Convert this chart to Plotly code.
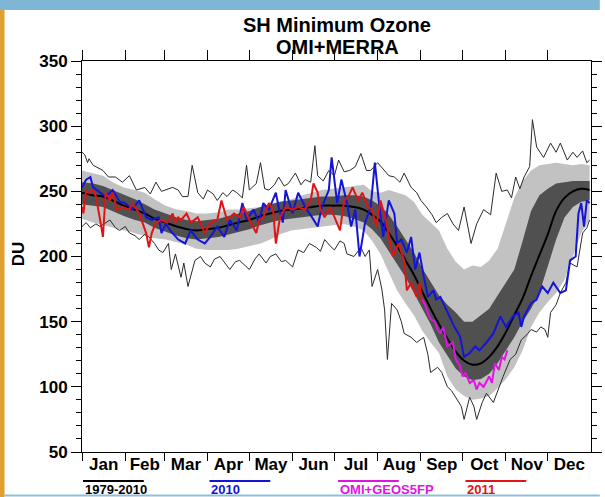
import plotly.graph_objects as go

# ---------------- data (DU) ----------------
month_names = ["Jan", "Feb", "Mar", "Apr", "May", "Jun", "Jul", "Aug", "Sep", "Oct", "Nov", "Dec"]
month_starts = [0, 31, 59, 90, 120, 151, 181, 212, 243, 273, 304, 334]
month_mids = [15.5, 45, 74.5, 105, 135.5, 166, 196.5, 227.5, 258, 288.5, 319, 349.5]
du_ticks = [50, 100, 150, 200, 250, 300, 350]

band_days = [0, 8, 15, 22, 30, 38, 45, 52, 60, 68, 75, 82, 90, 98, 105, 112, 120, 128, 135, 142,
             150, 158, 165, 172, 180, 188, 195, 202, 208, 214, 220, 226, 232, 238, 244, 250, 256, 262,
             268, 274, 280, 286, 292, 298, 304, 310, 316, 322, 328, 334, 340, 346, 352, 358, 364]
mean_du = [249, 247, 246, 243, 239, 236, 233, 229, 226, 223, 221, 220, 221, 222, 224, 226, 228, 231, 233, 235,
           236, 237, 238, 239, 239, 239, 238, 236, 232, 227, 218, 208, 197, 186, 173, 160, 148, 137,
           127, 120, 117, 118, 123, 131, 142, 155, 168, 185, 201, 217, 235, 245, 250, 252, 251]
dark_lo = [240, 239, 238, 235, 231, 228, 226, 222, 219, 216, 214, 213, 214, 215, 217, 219, 221, 224, 226, 228,
           229, 230, 231, 232, 232, 231, 229, 226, 221, 214, 204, 194, 184, 172, 160, 148, 134, 124,
           114, 108, 105, 106, 110, 118, 128, 138, 150, 160, 172, 192, 213, 230, 238, 242, 243]
dark_hi = [257, 256, 254, 251, 247, 244, 240, 236, 233, 230, 228, 227, 228, 229, 231, 233, 235, 238, 240, 242,
           243, 244, 245, 246, 246, 247, 247, 246, 243, 239, 232, 223, 213, 203, 191, 180, 170, 163,
           157, 150, 150, 155, 160, 170, 180, 190, 212, 235, 247, 252, 256, 257, 258, 258, 258]
light_lo = [229, 226, 224, 222, 220, 218, 216, 214, 213, 211, 209, 206, 205, 205, 205, 206, 208, 210, 213, 217,
            220, 221, 222, 223, 224, 225, 223, 220, 212, 202, 188, 174, 164, 155, 143, 134, 126, 108,
            98, 93, 90, 91, 93, 99, 106, 115, 128, 146, 157, 165, 172, 182, 200, 218, 228]
light_hi = [266, 264, 262, 257, 253, 251, 249, 244, 239, 236, 235, 233, 233, 234, 236, 236, 237, 238, 240, 242,
            244, 247, 249, 251, 252, 253, 254, 255, 250, 249, 251, 249, 247, 242, 232, 226, 220, 206,
            196, 190, 193, 192, 197, 206, 226, 245, 258, 266, 270, 271, 272, 271, 270, 271, 270]

max_days = [0, 2, 4, 5, 8, 11, 15, 19, 24, 29, 34, 39, 45, 49, 53, 57, 60, 65, 69, 72, 76, 79, 83, 87, 90,
            94, 97, 101, 104, 108, 111, 115, 118, 120, 125, 128, 131, 134, 138, 141, 145, 148, 153, 157,
            160, 164, 167, 169, 173, 177, 181, 184, 188, 192, 196, 200, 204, 207, 212, 217, 220, 224,
            228, 231, 236, 240, 243, 247, 251, 254, 258, 262, 266, 270, 274, 279, 283, 288, 293, 297,
            301, 305, 308, 311, 314, 317, 321, 323, 326, 331, 336, 340, 343, 348, 352, 355, 359, 362, 364]
max_du = [280, 278, 272, 275, 270, 268, 266, 261, 261, 257, 262, 251, 253, 248, 257, 250, 251, 253, 251, 246,
          246, 270, 249, 244, 251, 248, 243, 249, 246, 251, 249, 245, 270, 251, 256, 272, 252, 251, 255,
          261, 254, 256, 264, 255, 259, 257, 285, 262, 258, 266, 262, 274, 265, 266, 269, 279, 266, 266,
          272, 266, 262, 261, 257, 264, 253, 249, 243, 238, 232, 226, 230, 233, 225, 220, 238, 210, 225,
          236, 232, 264, 250, 251, 245, 261, 252, 261, 269, 305, 284, 276, 287, 280, 287, 274, 280, 276,
          281, 272, 274]

min_days = [0, 3, 6, 10, 13, 17, 20, 24, 27, 31, 34, 38, 41, 45, 48, 52, 55, 58, 62, 64, 67, 71, 73, 76,
            79, 81, 85, 88, 92, 95, 99, 103, 106, 110, 113, 117, 120, 124, 127, 132, 135, 139, 143, 146,
            151, 155, 159, 163, 168, 171, 174, 178, 181, 185, 188, 190, 195, 200, 203, 206, 208, 212,
            215, 217, 219, 222, 226, 229, 231, 236, 240, 245, 248, 250, 255, 258, 262, 265, 269, 272,
            274, 278, 281, 283, 287, 290, 295, 299, 302, 307, 311, 315, 319, 322, 326, 329, 332, 334,
            336, 340, 343, 347, 350, 355, 359, 362, 364]
min_du = [223, 226, 222, 225, 223, 226, 228, 222, 220, 223, 218, 216, 213, 217, 215, 210, 205, 203, 210, 190,
          202, 184, 195, 177, 190, 197, 200, 195, 192, 198, 200, 194, 190, 196, 197, 193, 190, 198, 202,
          195, 200, 202, 196, 197, 192, 205, 203, 210, 207, 204, 213, 208, 205, 212, 210, 202, 200, 207,
          200, 205, 177, 190, 175, 159, 121, 164, 159, 150, 141, 138, 134, 138, 125, 111, 115, 111, 100,
          97, 90, 85, 75, 92, 85, 75, 88, 95, 88, 100, 108, 121, 125, 136, 140, 144, 142, 146, 144, 138,
          157, 163, 172, 180, 195, 192, 218, 222, 228]

blue_days = [0, 3, 6, 8, 13, 17, 22, 27, 31, 36, 41, 46, 50, 55, 57, 60, 64, 69, 74, 78, 83, 88, 92, 97,
             102, 106, 111, 115, 118, 123, 127, 130, 134, 139, 141, 144, 146, 151, 155, 160, 165, 169,
             172, 177, 179, 183, 186, 190, 193, 196, 199, 203, 207, 210, 213, 216, 220, 224, 226, 229,
             233, 236, 239, 242, 245, 248, 252, 254, 257, 262, 267, 271, 274, 278, 282, 285, 290, 295,
             300, 304, 309, 313, 315, 317, 322, 326, 330, 334, 338, 343, 347, 350, 354, 356, 358, 360,
             362, 364]
blue_du = [253, 259, 261, 253, 249, 246, 251, 242, 241, 236, 243, 230, 228, 230, 218, 225, 219, 213, 210,
           220, 213, 210, 215, 223, 215, 228, 220, 241, 228, 236, 226, 241, 236, 249, 238, 226, 251, 233,
           249, 238, 230, 223, 238, 251, 276, 241, 259, 241, 223, 236, 200, 226, 238, 272, 241, 215, 243,
           233, 210, 213, 203, 215, 190, 203, 185, 169, 174, 167, 169, 157, 146, 139, 123, 126, 131, 128,
           134, 141, 154, 146, 154, 157, 146, 154, 164, 167, 177, 172, 180, 172, 174, 197, 200, 233, 241,
           223, 243, 241]

red_days = [0, 1, 3, 5, 8, 10, 13, 15, 17, 20, 22, 25, 29, 34, 36, 41, 46, 48, 50, 53, 57, 61, 65, 67,
            69, 71, 75, 78, 83, 88, 92, 97, 100, 104, 109, 113, 116, 120, 125, 127, 130, 134, 137, 139,
            142, 146, 151, 155, 160, 164, 166, 169, 171, 174, 178, 183, 185, 188, 191, 194, 198, 201,
            205, 208, 211, 214, 218, 221, 223, 227, 231, 233, 236, 240, 242, 244]
red_du = [238, 233, 251, 249, 251, 246, 228, 215, 249, 243, 249, 236, 238, 236, 241, 233, 218, 207, 218,
          226, 228, 226, 233, 226, 230, 228, 233, 226, 230, 218, 226, 228, 243, 228, 233, 230, 238, 228,
          218, 228, 230, 241, 236, 210, 230, 238, 236, 238, 236, 243, 256, 249, 236, 230, 238, 226, 220,
          243, 246, 253, 243, 249, 238, 236, 223, 243, 228, 210, 200, 210, 197, 174, 180, 169, 180, 164]

mag_days = [244, 246, 248, 250, 253, 255, 257, 259, 262, 266, 268, 271, 273, 275, 278, 281, 283, 285, 288,
            292, 294, 296, 299, 301, 303, 305]
mag_du = [167, 163, 157, 152, 150, 144, 141, 146, 131, 134, 121, 116, 108, 111, 103, 105, 98, 103, 100,
          108, 103, 118, 113, 123, 121, 128]

legend_labels = ["1979-2010", "2010", "OMI+GEOS5FP", "2011"]
legend_colors = ["#000000", "#1414d8", "#e014e0", "#e01414"]

for a, b in [(band_days, mean_du), (band_days, dark_lo), (band_days, dark_hi), (band_days, light_lo),
             (band_days, light_hi), (max_days, max_du), (min_days, min_du), (blue_days, blue_du),
             (red_days, red_du), (mag_days, mag_du)]:
    assert len(a) == len(b), (len(a), len(b))

# ---------------- figure ----------------
FONT = "Liberation Sans, Arial, sans-serif"
W, H = 605, 497
L, R, T, B = 82, 4, 61, 45
PW, PH = W - L - R, H - T - B


def px(xp):
    return (xp - L) / PW


def py(yp):
    return (H - B - yp) / PH


fig = go.Figure()

fig.add_trace(go.Scatter(x=band_days + band_days[::-1], y=light_hi + light_lo[::-1], fill="toself",
                         fillcolor="#c2c2c2", line=dict(width=0), mode="lines", hoverinfo="skip"))
fig.add_trace(go.Scatter(x=band_days + band_days[::-1], y=dark_hi + dark_lo[::-1], fill="toself",
                         fillcolor="#505050", line=dict(width=0), mode="lines", hoverinfo="skip"))
fig.add_trace(go.Scatter(x=max_days, y=max_du, mode="lines", line=dict(color="#2a2a2a", width=1)))
fig.add_trace(go.Scatter(x=min_days, y=min_du, mode="lines", line=dict(color="#2a2a2a", width=1)))
fig.add_trace(go.Scatter(x=band_days, y=mean_du, mode="lines", line=dict(color="#000000", width=2, shape="spline")))
fig.add_trace(go.Scatter(x=blue_days, y=blue_du, mode="lines", line=dict(color=legend_colors[1], width=2)))
fig.add_trace(go.Scatter(x=red_days, y=red_du, mode="lines", line=dict(color=legend_colors[3], width=2)))
fig.add_trace(go.Scatter(x=mag_days, y=mag_du, mode="lines", line=dict(color=legend_colors[2], width=2)))
# empty trace so the mirrored tick axes (top / right) are drawn
fig.add_trace(go.Scatter(x=[], y=[], xaxis="x2", yaxis="y2", mode="lines", hoverinfo="skip"))

fig.update_layout(
    width=W, height=H, margin=dict(l=L, r=R, t=T, b=B, pad=0),
    paper_bgcolor="white", plot_bgcolor="white", showlegend=False,
    font=dict(family=FONT, color="black"),
    xaxis=dict(range=[0, 365], tickmode="array", tickvals=month_mids, ticktext=month_names,
               ticks="", showgrid=False, zeroline=False, showline=True, linecolor="black", linewidth=1,
               mirror=True, tickfont=dict(size=17, weight=700, family=FONT), ticklabelstandoff=-3,
               minor=dict(tickmode="array", tickvals=month_starts, ticks="outside", ticklen=8,
                          tickcolor="black", tickwidth=1, showgrid=False)),
    yaxis=dict(range=[50, 350], tickmode="array", tickvals=du_ticks,
               ticks="outside", ticklen=10, tickcolor="black", showgrid=False, zeroline=False,
               showline=True, linecolor="black", linewidth=1, mirror=True,
               tickfont=dict(size=17, weight=700, family=FONT),
               minor=dict(dtick=10, tick0=50, ticks="outside", ticklen=5, tickcolor="black", showgrid=False)),
    xaxis2=dict(overlaying="x", side="top", anchor="y2", range=[0, 365], tickmode="array",
                tickvals=month_starts, ticks="outside", ticklen=10, tickcolor="black", showticklabels=False,
                showgrid=False, zeroline=False, showline=False),
    yaxis2=dict(overlaying="y", side="right", anchor="x2", range=[50, 350], tickmode="array",
                tickvals=du_ticks, ticks="outside", ticklen=10, tickcolor="black", showticklabels=False,
                showgrid=False, zeroline=False, showline=False,
                minor=dict(dtick=10, tick0=50, ticks="outside", ticklen=5, tickcolor="black", showgrid=False)),
)

ann = []
ann.append(dict(text="SH Minimum Ozone", x=0.501, y=py(24.5), xref="paper", yref="paper", showarrow=False,
                xanchor="center", yanchor="middle", font=dict(size=20, weight=700, family=FONT)))
ann.append(dict(text="OMI+MERRA", x=0.501, y=py(47), xref="paper", yref="paper", showarrow=False,
                xanchor="center", yanchor="middle", font=dict(size=20, weight=700, family=FONT)))
ann.append(dict(text="DU", x=px(18), y=py(254), xref="paper", yref="paper", showarrow=False, textangle=-90,
                xanchor="center", yanchor="middle", font=dict(size=17, weight=700, family=FONT)))

shapes = []
leg_x = [83, 212, 343, 473]
for lx, lab, col in zip(leg_x, legend_labels, legend_colors):
    shapes.append(dict(type="line", xref="paper", yref="paper", x0=px(lx), x1=px(lx + 62),
                       y0=py(481), y1=py(481), line=dict(color=col, width=2)))
    ann.append(dict(text=lab, x=px(lx), y=py(490), xref="paper", yref="paper", showarrow=False,
                    xanchor="left", yanchor="middle", font=dict(size=13, weight=700, color=col, family=FONT)))

# page decoration (top bar, left strip, bottom rule)
shapes.append(dict(type="rect", xref="paper", yref="paper", x0=px(-5), x1=px(W + 5), y0=py(10), y1=py(-5),
                   fillcolor="#80b6d5", line=dict(width=0), layer="below"))
shapes.append(dict(type="rect", xref="paper", yref="paper", x0=px(-5), x1=px(3), y0=py(H + 5), y1=py(10),
                   fillcolor="#e0a030", line=dict(width=0), layer="below"))
shapes.append(dict(type="line", xref="paper", yref="paper", x0=px(3), x1=px(W + 5), y0=py(495.5), y1=py(495.5),
                   line=dict(color="#8ec0dc", width=2)))

fig.update_layout(annotations=ann, shapes=shapes)

fig.write_html("out.html", config={"displayModeBar": False},
               post_script="document.body.style.margin='0';document.body.style.overflow='hidden';")
